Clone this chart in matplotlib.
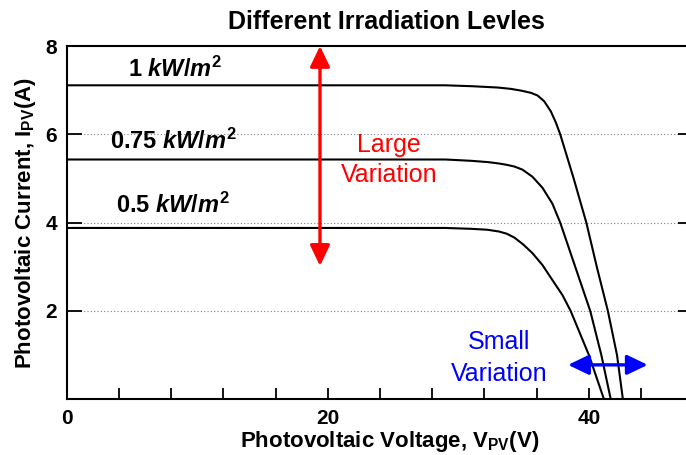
import matplotlib
matplotlib.use("Agg")
import matplotlib.pyplot as plt

# I-V curves (voltage V, current A)
v_1kw = [0, 29, 31, 33, 34.0, 34.8, 35.55, 36.06, 36.57, 37.08, 37.46, 37.8, 38.8,
         39.8, 40.6, 41.45, 42.15, 42.6]
i_1kw = [7.11, 7.11, 7.09, 7.06, 7.03, 6.99, 6.94, 6.88, 6.75, 6.52, 6.27, 6.0, 5.03,
         4.0, 3.0, 2.0, 1.0, 0.0]

v_075kw = [0, 29, 31, 32.3, 33.1, 33.7, 34.3, 34.91, 35.67, 36.44, 37.2, 37.8, 38.95,
           40.1, 40.95, 41.67]
i_075kw = [5.43, 5.43, 5.40, 5.37, 5.34, 5.31, 5.27, 5.20, 5.04, 4.79, 4.43, 4.0,
           3.0, 2.0, 1.0, 0.0]

v_05kw = [0, 29, 31, 32.2, 33.1, 33.7, 34.3, 34.95, 35.67, 36.44, 37.2, 37.97, 38.6,
          40.0, 41.15]
i_05kw = [3.88, 3.88, 3.86, 3.84, 3.80, 3.75, 3.66, 3.51, 3.31, 3.04, 2.70, 2.36,
          2.0, 1.0, 0.0]

curve_labels = ["1 ", "0.75 ", "0.5 "]
label_pos = [(4.7, 7.3), (3.3, 5.66), (3.8, 4.21)]

plt.rcParams["font.family"] = "Liberation Sans"
plt.rcParams["mathtext.fontset"] = "custom"
plt.rcParams["mathtext.rm"] = "Liberation Sans:bold"
plt.rcParams["mathtext.it"] = "Liberation Sans:bold:italic"
plt.rcParams["mathtext.bf"] = "Liberation Sans:bold"

fig = plt.figure(figsize=(6.86, 4.55), dpi=100)
ax = fig.add_axes([0.0972, 0.1224, 0.9136, 0.7765])

for v, i in [(v_1kw, i_1kw), (v_075kw, i_075kw), (v_05kw, i_05kw)]:
    ax.plot(v, i, color="black", lw=1.5, solid_joinstyle="round")

for txt, (x, y) in zip(curve_labels, label_pos):
    ax.text(x, y, txt + r"$\mathit{kW/m}^{\mathrm{2}}$", fontsize=17,
            fontweight="bold", ha="left", va="baseline")

# dotted gridlines
for y in [2, 4, 6]:
    ax.axhline(y, color="gray", lw=0.8, ls=(0, (1, 2)), zorder=0)

# arrows
ax.annotate("", xy=(19.4, 8.0), xytext=(19.4, 3.02),
            arrowprops=dict(arrowstyle="<|-|>,head_length=1.25,head_width=0.6",
                            color="red", lw=2.4, shrinkA=0, shrinkB=0))
ax.annotate("", xy=(38.4, 0.78), xytext=(44.5, 0.78),
            arrowprops=dict(arrowstyle="<|-|>,head_length=1.25,head_width=0.6",
                            color="blue", lw=2.4, shrinkA=0, shrinkB=0))

ax.text(24.7, 5.6, "Large", color="red", fontsize=18, ha="center", va="baseline")
ax.text(24.7, 4.92, "Variation", color="red", fontsize=18, ha="center", va="baseline")
ax.text(33.1, 1.13, "Small", color="blue", fontsize=18, ha="center", va="baseline")
ax.text(33.1, 0.41, "Variation", color="blue", fontsize=18, ha="center", va="baseline")

ax.set_xlim(0, 48)
ax.set_ylim(0, 8)
ax.set_xticks(range(0, 48, 4))
ax.set_xticklabels([str(t) if t % 20 == 0 else "" for t in range(0, 48, 4)])
ax.set_yticks([2, 4, 6, 8])
ax.tick_params(axis="x", direction="in", length=8, width=1.3, labelsize=15, pad=7)
ax.tick_params(axis="y", direction="in", length=11, width=1.3, labelsize=15, pad=7,
               right=True)
for lab in ax.get_xticklabels() + ax.get_yticklabels():
    lab.set_fontweight("bold")
for s in ax.spines.values():
    s.set_linewidth(1.5)

ax.set_title("Different Irradiation Levles", fontsize=18, fontweight="bold",
             pad=12, x=0.51)
ax.set_xlabel(r"Photovoltaic Voltage, V$_{\mathrm{PV}}$(V)", fontsize=16,
              fontweight="bold")
ax.xaxis.set_label_coords(0.515, -0.083)
ax.set_ylabel(r"Photovoltaic Current, I$_{\mathrm{PV}}$(A)", fontsize=16,
              fontweight="bold", labelpad=5)

fig.savefig("out.png", dpi=100)
